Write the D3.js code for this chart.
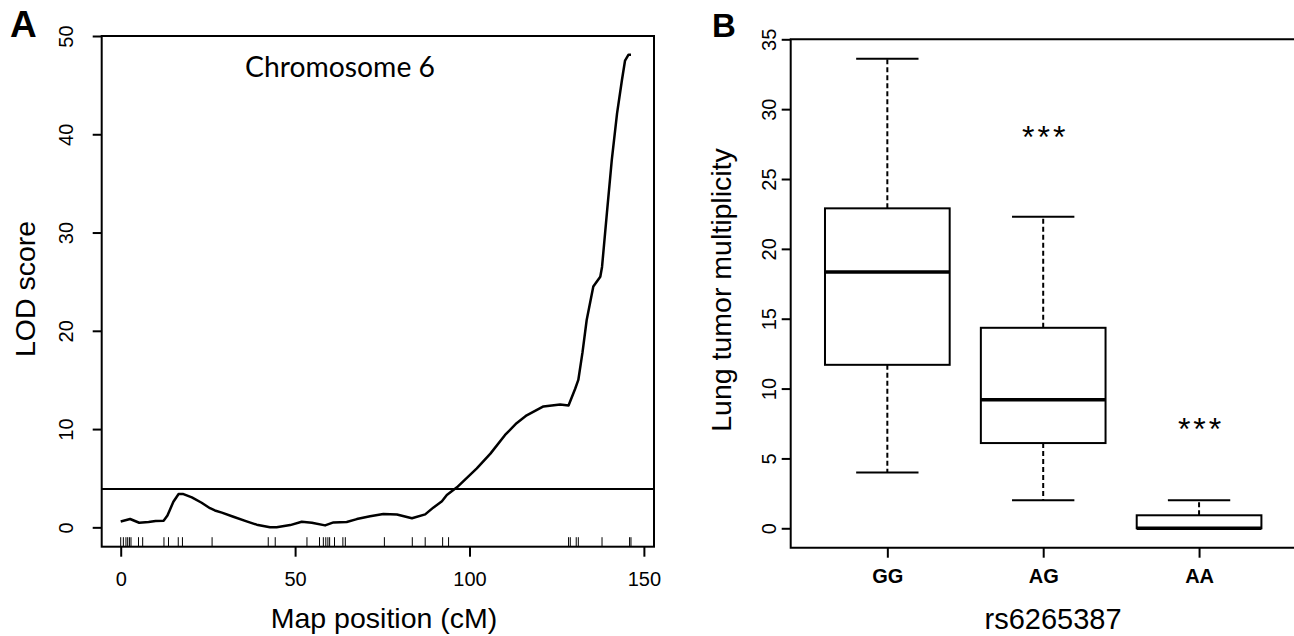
<!DOCTYPE html>
<html><head><meta charset="utf-8">
<script src="https://cdn.jsdelivr.net/npm/d3@7"></script>
<style>body{margin:0;background:#fff}svg{display:block}</style>
</head><body><svg id="c" width="1294" height="636"></svg>
<script>
// ---- Panel A data ----
const lodPos = [0,2.7,5.3,8,10,12.3,13.4,15.1,16.6,17.8,20.4,23.2,25.6,27,29,32.3,36.1,39,42.8,44.7,48.6,51.9,54.8,58.6,61,64.8,67.7,71.5,75.3,79.2,83.5,87.3,89.7,92.1,93.5,96.4,102.1,106,110.2,113.5,116.4,121.2,126,128.4,130.3,131.2,132.4,133.6,135.5,137.5,138,139.4,140.8,142.3,143.7,144.6,145.6,146.3];
const lodVal = [0.6,0.85,0.47,0.55,0.65,0.67,1.2,2.6,3.39,3.4,3.05,2.5,1.95,1.72,1.5,1.08,0.61,0.27,0.0,0.0,0.23,0.57,0.47,0.2,0.5,0.54,0.84,1.12,1.35,1.3,0.92,1.32,2.03,2.65,3.29,4.07,6.0,7.5,9.4,10.6,11.4,12.3,12.5,12.4,14.1,15.0,17.8,21.1,24.5,25.5,26.5,32,37.4,42.1,45.5,47.5,48.1,48.1];
const markers = [0,0.76,1.5,2.0,2.5,2.95,5.1,6.3,12.4,13.7,16.5,17.7,26.2,42.3,44.3,53.4,57.0,58.1,58.8,59.4,59.9,61.3,63.7,64.4,75.6,83.6,87.3,92.3,94.0,128.4,128.9,130.6,131.2,138.0,145.9,146.3];
const threshold = 3.9;
const aXTicks = [0,50,100,150];
const aYTicks = [0,10,20,30,40,50];

// ---- Panel B data ----
const genotypes = ["GG","AG","AA"];
const whiskLo = [4.0, 2.0, 0.0];
const q1 = [11.7, 6.1, 0.0];
const median = [18.35, 9.2, 0.0];
const q3 = [22.9, 14.35, 0.93];
const whiskHi = [33.6, 22.3, 2.0];
const stars = ["", "***", "***"];
const starY = [0, 27.2, 6.3];
const bYTicks = [0,5,10,15,20,25,30,35];

const svg = d3.select("#c");
const AF = "'Liberation Sans', Arial, sans-serif";

// ===== Panel A =====
const ax = d3.scaleLinear().domain([-5.45, 152.9]).range([101.7, 654]);
const ay = d3.scaleLinear().domain([-1.97, 50]).range([546.7, 36]);
const gA = svg.append("g");
gA.append("rect").attr("x", ax.range()[0]).attr("y", ay.range()[1])
  .attr("width", ax.range()[1]-ax.range()[0]).attr("height", ay.range()[0]-ay.range()[1])
  .attr("fill","none").attr("stroke","#000").attr("stroke-width",2);
const xa = gA.append("g").attr("transform",`translate(0,${ay.range()[0]})`)
  .call(d3.axisBottom(ax).tickValues(aXTicks).tickSize(10).tickPadding(15).tickFormat(d3.format("d")));
xa.select(".domain").remove();
xa.selectAll("line").attr("stroke-width",2);
xa.selectAll("text").attr("font-family",AF).attr("font-size",20).attr("fill","#000");
const ya = gA.append("g").attr("transform",`translate(${ax.range()[0]},0)`)
  .call(d3.axisLeft(ay).tickValues(aYTicks).tickSize(9).tickFormat(d3.format("d")));
ya.select(".domain").remove();
ya.selectAll("line").attr("stroke-width",2);
ya.selectAll("text").attr("font-family",AF).attr("font-size",20).attr("fill","#000")
  .attr("text-anchor","middle").attr("x",0).attr("dy",0)
  .attr("transform", `translate(-36,0) rotate(-90)`).attr("y",7);
gA.append("line").attr("x1",ax.range()[0]).attr("x2",ax.range()[1])
  .attr("y1",ay(threshold)).attr("y2",ay(threshold)).attr("stroke","#000").attr("stroke-width",2);
gA.selectAll(".rug").data(markers).join("line")
  .attr("x1",d=>ax(d)).attr("x2",d=>ax(d))
  .attr("y1",ay.range()[0]).attr("y2",ay.range()[0]-9.5)
  .attr("stroke","#000").attr("stroke-width",1);
const lodData = lodPos.map((p,i)=>[p,lodVal[i]]);
gA.append("path").datum(lodData)
  .attr("d", d3.line().x(d=>ax(d[0])).y(d=>ay(d[1])))
  .attr("fill","none").attr("stroke","#000").attr("stroke-width",2.5).attr("stroke-linejoin","round");
gA.append("text").attr("x",245).attr("y",77).text("Chromosome 6")
  .attr("font-family","Lato, 'Open Sans', sans-serif").attr("font-size",29)
  .attr("textLength",190).attr("lengthAdjust","spacingAndGlyphs");
gA.append("text").attr("x",384).attr("y",628).attr("text-anchor","middle")
  .attr("font-family",AF).attr("font-size",28.5).text("Map position (cM)");
gA.append("text").attr("transform",`translate(35,289) rotate(-90)`).attr("text-anchor","middle")
  .attr("font-family",AF).attr("font-size",28.5).text("LOD score");
svg.append("text").attr("x",10).attr("y",37).attr("font-family",AF).attr("font-weight","bold")
  .attr("font-size",37).text("A");

// ===== Panel B =====
const bx = d3.scaleLinear().domain([0.38, 3.62]).range([790.7, 1295.7]);
const by = d3.scaleLinear().domain([-1.39, 35]).range([547.7, 39.3]);
const gB = svg.append("g");
const bandW = 0.8;
gB.append("path").attr("d",`M${bx.range()[1]+2},${by.range()[1]}H${bx.range()[0]}V${by.range()[0]}H${bx.range()[1]+2}`)
  .attr("fill","none").attr("stroke","#000").attr("stroke-width",2);
const bxa = gB.append("g").attr("transform",`translate(0,${by.range()[0]})`)
  .call(d3.axisBottom(bx).tickValues([1,2,3]).tickSize(10).tickPadding(11).tickFormat((d,i)=>genotypes[i]));
bxa.select(".domain").remove();
bxa.selectAll("line").attr("stroke-width",2);
bxa.selectAll("text").attr("font-family",AF).attr("font-size",20).attr("font-weight","bold").attr("fill","#000");
const bya = gB.append("g").attr("transform",`translate(${bx.range()[0]},0)`)
  .call(d3.axisLeft(by).tickValues(bYTicks).tickSize(9).tickFormat(d3.format("d")));
bya.select(".domain").remove();
bya.selectAll("line").attr("stroke-width",2);
bya.selectAll("text").attr("font-family",AF).attr("font-size",20).attr("fill","#000")
  .attr("text-anchor","middle").attr("x",0).attr("dy",0)
  .attr("transform", `translate(-22,0) rotate(-90)`).attr("y",7);

genotypes.forEach((g,i)=>{
  const c = bx(i+1);
  const hw = (bx(1+bandW/2)-bx(1));
  const cw = hw/2;
  gB.append("line").attr("x1",c).attr("x2",c).attr("y1",by(q3[i])).attr("y2",by(whiskHi[i]))
    .attr("stroke","#000").attr("stroke-width",2).attr("stroke-dasharray","5,3");
  gB.append("line").attr("x1",c).attr("x2",c).attr("y1",by(q1[i])).attr("y2",by(whiskLo[i]))
    .attr("stroke","#000").attr("stroke-width",2).attr("stroke-dasharray","5,3");
  [whiskHi[i], whiskLo[i]].forEach(v=>{
    gB.append("line").attr("x1",c-cw).attr("x2",c+cw).attr("y1",by(v)).attr("y2",by(v))
      .attr("stroke","#000").attr("stroke-width",2);
  });
  gB.append("rect").attr("x",c-hw).attr("y",by(q3[i])).attr("width",2*hw)
    .attr("height",by(q1[i])-by(q3[i])).attr("fill","#fff").attr("stroke","#000").attr("stroke-width",2);
  gB.append("line").attr("x1",c-hw).attr("x2",c+hw).attr("y1",by(median[i])).attr("y2",by(median[i]))
    .attr("stroke","#000").attr("stroke-width",3.5);
  if(stars[i]) gB.append("text").attr("x",c+2).attr("y",by(starY[i])).attr("text-anchor","middle")
    .attr("font-family",AF).attr("font-size",32).attr("letter-spacing",3).text(stars[i]);
});
gB.append("text").attr("x",1053).attr("y",629).attr("text-anchor","middle")
  .attr("font-family",AF).attr("font-size",29).text("rs6265387");
gB.append("text").attr("transform",`translate(731,290) rotate(-90)`).attr("text-anchor","middle")
  .attr("font-family",AF).attr("font-size",28.5).text("Lung tumor multiplicity");
svg.append("text").attr("x",712).attr("y",37).attr("font-family",AF).attr("font-weight","bold")
  .attr("font-size",33).text("B");
</script></body></html>
